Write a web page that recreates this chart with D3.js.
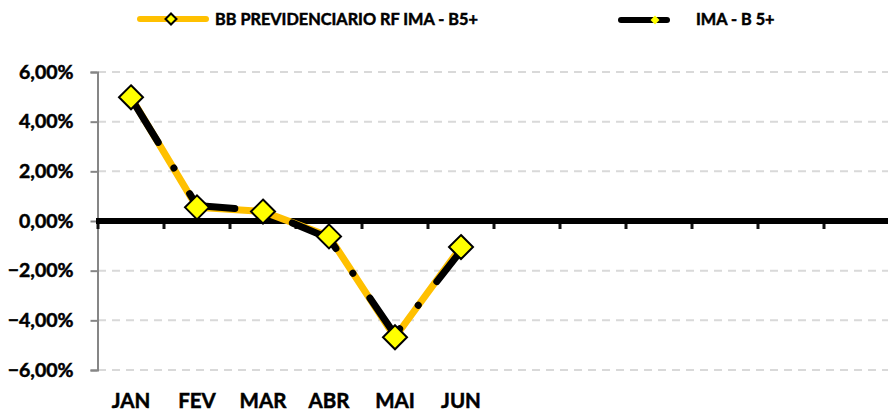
<!DOCTYPE html>
<html>
<head>
<meta charset="utf-8">
<script src="https://cdn.jsdelivr.net/npm/d3@7"></script>
<style>
  body { margin: 0; background: #fff; }
  text { font-family: Lato, "Open Sans", sans-serif; font-weight: bold; fill: #000; stroke: #000; stroke-width: 0.5px; }
</style>
</head>
<body>
<svg id="chart"></svg>
<script>
// Data
const categories = ['JAN', 'FEV', 'MAR', 'ABR', 'MAI', 'JUN', '', '', '', '', '', ''];
const fundValues = [4.98, 0.55, 0.38, -0.62, -4.68, -1.05];   // BB PREVIDENCIARIO RF IMA - B5+
const indexValues = [4.95, 0.62, 0.42, -0.70, -4.58, -1.20];  // IMA - B 5+
const yTicks = [-6, -4, -2, 0, 2, 4, 6];
const seriesNames = ['BB PREVIDENCIARIO RF IMA - B5+', 'IMA - B 5+'];

const width = 888, height = 414;
const margin = {top: 72, right: -2, bottom: 44, left: 98};

const svg = d3.select('#chart')
    .attr('width', width)
    .attr('height', height);

const xScale = d3.scaleBand()
    .domain(d3.range(categories.length))
    .range([margin.left, width - margin.right]);

const yScale = d3.scaleLinear()
    .domain([-6, 6])
    .range([height - margin.bottom, margin.top]);

const fmt = d => d3.format('.2f')(d).replace('.', ',') + '%';

// Dashed gridlines
svg.append('g')
  .selectAll('line')
  .data(yTicks.filter(d => d !== 0))
  .join('line')
    .attr('x1', margin.left)
    .attr('x2', width)
    .attr('y1', d => yScale(d))
    .attr('y2', d => yScale(d))
    .attr('stroke', '#d9d9d9')
    .attr('stroke-width', 2)
    .attr('stroke-dasharray', '8,6');

// Y axis
const yAxisG = svg.append('g')
    .attr('transform', `translate(${margin.left - 0.5},0)`)
    .call(d3.axisLeft(yScale).tickValues(yTicks).tickFormat(fmt).tickSize(7).tickPadding(17).tickSizeOuter(7));
yAxisG.select('.domain').attr('stroke', '#868686').attr('stroke-width', 2);
yAxisG.selectAll('.tick line').attr('stroke', '#868686').attr('stroke-width', 2);
yAxisG.selectAll('.tick text')
    .attr('font-size', 19.5)
    .attr('font-family', 'Lato, sans-serif')
    .attr('font-weight', 'bold')
    .attr('fill', '#000');

// Zero line with category ticks
const zeroY = yScale(0);
svg.append('g')
  .selectAll('line')
  .data(d3.range(categories.length))
  .join('line')
    .attr('x1', d => xScale(d))
    .attr('x2', d => xScale(d))
    .attr('y1', zeroY)
    .attr('y2', zeroY + 8)
    .attr('stroke', '#111')
    .attr('stroke-width', 3);

svg.append('line')
    .attr('x1', margin.left - 2)
    .attr('x2', width)
    .attr('y1', zeroY)
    .attr('y2', zeroY)
    .attr('stroke', '#000')
    .attr('stroke-width', 6);

// Category labels at the bottom
svg.append('g')
  .selectAll('text')
  .data(categories)
  .join('text')
    .attr('x', (d, i) => xScale(i) + xScale.bandwidth() / 2)
    .attr('y', 408)
    .attr('text-anchor', 'middle')
    .attr('font-size', 20.5)
    .text(d => d);

const line = d3.line()
    .x((d, i) => xScale(i) + xScale.bandwidth() / 2)
    .y(d => yScale(d));

// Fund series: solid orange
svg.append('path')
    .datum(fundValues)
    .attr('d', line)
    .attr('fill', 'none')
    .attr('stroke', '#ffc000')
    .attr('stroke-width', 7)
    .attr('stroke-linejoin', 'round');

// Index series: black long dash dot
svg.append('path')
    .datum(indexValues)
    .attr('d', line)
    .attr('fill', 'none')
    .attr('stroke', '#000')
    .attr('stroke-width', 7)
    .attr('stroke-linecap', 'round')
    .attr('stroke-linejoin', 'round')
    .attr('stroke-dasharray', '52,30,0.1,30');

const diamond = r => `M0,${-r}L${r},0L0,${r}L${-r},0Z`;

// Index markers (small)
svg.append('g')
  .selectAll('path')
  .data(indexValues)
  .join('path')
    .attr('transform', (d, i) => `translate(${xScale(i) + xScale.bandwidth() / 2},${yScale(d)})`)
    .attr('d', diamond(5))
    .attr('fill', '#ffff00');

// Fund markers (large)
svg.append('g')
  .selectAll('path')
  .data(fundValues)
  .join('path')
    .attr('transform', (d, i) => `translate(${xScale(i) + xScale.bandwidth() / 2},${yScale(d)})`)
    .attr('d', diamond(12))
    .attr('fill', '#ffff00')
    .attr('stroke', '#000')
    .attr('stroke-width', 2)
    .attr('stroke-linejoin', 'miter');

// Legend
const legend = svg.append('g');
const l1 = legend.append('g');
l1.append('line')
    .attr('x1', 140).attr('x2', 206).attr('y1', 19).attr('y2', 19)
    .attr('stroke', '#ffc000').attr('stroke-width', 6).attr('stroke-linecap', 'round');
l1.append('path')
    .attr('transform', 'translate(171,19)')
    .attr('d', diamond(5.5))
    .attr('fill', '#ffff00').attr('stroke', '#000').attr('stroke-width', 2);
l1.append('text')
    .attr('x', 215).attr('y', 25)
    .attr('font-size', 16.3)
    .text(seriesNames[0]);

const l2 = legend.append('g');
l2.append('line')
    .attr('x1', 621).attr('x2', 667).attr('y1', 20).attr('y2', 20)
    .attr('stroke', '#000').attr('stroke-width', 6).attr('stroke-linecap', 'round');
l2.append('path')
    .attr('transform', 'translate(655,20)')
    .attr('d', diamond(4.5))
    .attr('fill', '#ffff00');
l2.append('text')
    .attr('x', 696).attr('y', 25)
    .attr('font-size', 16.3)
    .text(seriesNames[1]);
</script>
</body>
</html>
